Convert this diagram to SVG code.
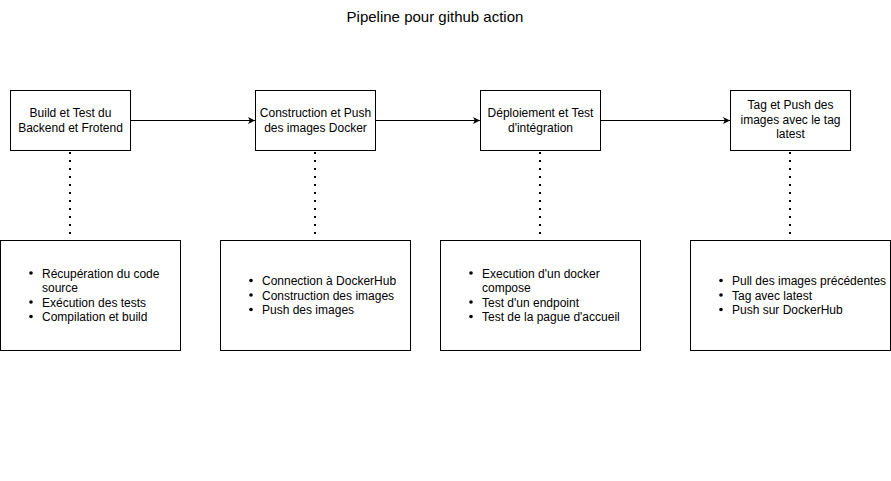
<svg xmlns="http://www.w3.org/2000/svg" width="891" height="481" viewBox="0 0 891 481">
<style>
text{font-family:"Liberation Sans",Arial,sans-serif;font-size:12px;fill:#000}
.c{text-anchor:middle}
.box{fill:#fff;stroke:#000;stroke-width:1}
.dot{stroke:#000;stroke-width:2;stroke-dasharray:2 6;fill:none}
.arr{stroke:#000;stroke-width:1;fill:none;marker-end:url(#ah)}
</style>
<defs>
<marker id="ah" markerWidth="8" markerHeight="8" refX="7" refY="4" orient="auto" markerUnits="userSpaceOnUse">
<path d="M0,0.5 L7,4 L0,7.5 L1.8,4 Z" fill="#000"/>
</marker>
</defs>
<rect width="891" height="481" fill="#fff"/>
<text class="c" x="435" y="21.5" style="font-size:15px">Pipeline pour github action</text>
<g id="connectors">
<line class="arr" x1="130.5" y1="120.5" x2="255" y2="120.5"/>
<line class="arr" x1="375.5" y1="120.5" x2="480" y2="120.5"/>
<line class="arr" x1="600.5" y1="120.5" x2="730" y2="120.5"/>
<line class="dot" x1="70" y1="152" x2="70" y2="240"/>
<line class="dot" x1="315" y1="152" x2="315" y2="240"/>
<line class="dot" x1="540" y1="152" x2="540" y2="240"/>
<line class="dot" x1="790" y1="152" x2="790" y2="240"/>
</g>
<g id="n1">
<rect class="box" x="10.5" y="90.5" width="120" height="60"/>
<text class="c" x="70.5" y="117">Build et Test du</text>
<text class="c" x="70.5" y="132">Backend et Frotend</text>
</g>
<g id="n2">
<rect class="box" x="255.5" y="90.5" width="120" height="60"/>
<text class="c" x="315.5" y="117">Construction et Push</text>
<text class="c" x="315.5" y="132">des images Docker</text>
</g>
<g id="n3">
<rect class="box" x="480.5" y="90.5" width="120" height="60"/>
<text class="c" x="540.5" y="117">Déploiement et Test</text>
<text class="c" x="540.5" y="132">d'intégration</text>
</g>
<g id="n4">
<rect class="box" x="730.5" y="90.5" width="120" height="60"/>
<text class="c" x="790.5" y="109">Tag et Push des</text>
<text class="c" x="790.5" y="123.5">images avec le tag</text>
<text class="c" x="790.5" y="138">latest</text>
</g>
<g id="l1">
<rect class="box" x="0.5" y="240.5" width="180" height="110"/>
<circle cx="31" cy="273" r="1.8"/><circle cx="31" cy="302" r="1.8"/><circle cx="31" cy="316.5" r="1.8"/>
<text x="42" y="277.5">Récupération du code</text>
<text x="42" y="292">source</text>
<text x="42" y="306.5">Exécution des tests</text>
<text x="42" y="321">Compilation et build</text>
</g>
<g id="l2">
<rect class="box" x="220.5" y="240.5" width="190" height="110"/>
<circle cx="251" cy="280.5" r="1.8"/><circle cx="251" cy="295" r="1.8"/><circle cx="251" cy="309.5" r="1.8"/>
<text x="262" y="285">Connection à DockerHub</text>
<text x="262" y="299.5">Construction des images</text>
<text x="262" y="314">Push des images</text>
</g>
<g id="l3">
<rect class="box" x="440.5" y="240.5" width="200" height="110"/>
<circle cx="471" cy="273" r="1.8"/><circle cx="471" cy="302" r="1.8"/><circle cx="471" cy="316.5" r="1.8"/>
<text x="482" y="277.5">Execution d'un docker</text>
<text x="482" y="292">compose</text>
<text x="482" y="306.5">Test d'un endpoint</text>
<text x="482" y="321">Test de la pague d'accueil</text>
</g>
<g id="l4">
<rect class="box" x="690.5" y="240.5" width="200" height="110"/>
<circle cx="721" cy="280.5" r="1.8"/><circle cx="721" cy="295" r="1.8"/><circle cx="721" cy="309.5" r="1.8"/>
<text x="732" y="285">Pull des images précédentes</text>
<text x="732" y="299.5">Tag avec latest</text>
<text x="732" y="314">Push sur DockerHub</text>
</g>
</svg>
